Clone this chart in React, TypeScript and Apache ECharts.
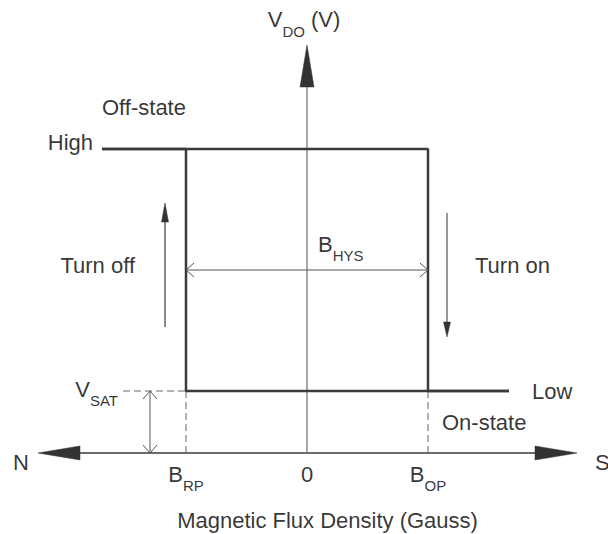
import React, { useEffect, useRef } from "react";
import * as echarts from "echarts";

// ---- Field values (Gauss, relative) ----
const B_RP = -121;
const B_ZERO = 0;
const B_OP = 121;
const B_LEFT_END = -205;
const B_RIGHT_END = 202;

// ---- Output levels (relative units) ----
const V_SAT = 62;
const V_HIGH = 304;

// Axis extents (data units)
const X_AXIS_LEFT = -269;
const X_AXIS_RIGHT = 270;
const Y_AXIS_TOP = 408;

// Tick labels of the field axis
const xTickValues = [B_RP, B_ZERO, B_OP];
const xTickLabels = ["{m|B}{s|RP}", "{m|0}", "{m|B}{s|OP}"];

// Hysteresis branches
const increasingBranch = [
  [B_LEFT_END, V_HIGH],
  [B_OP, V_HIGH],
  [B_OP, V_SAT],
  [B_RIGHT_END, V_SAT],
];
const decreasingBranch = [
  [B_RIGHT_END, V_SAT],
  [B_RP, V_SAT],
  [B_RP, V_HIGH],
  [B_LEFT_END, V_HIGH],
];

// Helper segments [x1, y1, x2, y2]
const segments = [
  [X_AXIS_LEFT + 30, 0, X_AXIS_RIGHT - 30, 0], // x axis
  [0, 0, 0, Y_AXIS_TOP - 30], // y axis
  [-184, V_SAT, B_RP, V_SAT], // V_SAT dashed
  [B_RP, 0, B_RP, V_SAT], // B_RP dashed
  [B_OP, 0, B_OP, V_SAT], // B_OP dashed
  [B_RP, 183, B_OP, 183], // B_HYS dimension
  [-157, 0, -157, V_SAT], // V_SAT dimension
  [-142, 126, -142, 245], // turn off arrow
  [140, 240, 140, 120], // turn on arrow
];
const segmentKinds = ["xaxis", "yaxis", "dash", "dash", "dash", "dim", "dim", "off", "on"];

// Arrow heads [tipX, tipY, dirX, dirY]
const arrowHeads = [
  [X_AXIS_RIGHT, 0, 1, 0],
  [X_AXIS_LEFT, 0, -1, 0],
  [0, Y_AXIS_TOP, 0, 1],
  [B_RP, 183, -1, 0],
  [B_OP, 183, 1, 0],
  [-157, V_SAT, 0, 1],
  [-157, 0, 0, -1],
  [-142, 250, 0, 1],
  [140, 116, 0, -1],
];
const arrowKinds = ["axis", "axis", "axis", "open", "open", "open", "open", "small", "small2"];

// Text annotations
const annoTexts = ["Off-state", "High", "Turn off", "Turn on", "Low", "On-state", "N", "S"];
const annoPos = [
  [-205, 346],
  [-214, 310.5],
  [-172, 188],
  [168, 188],
  [225, 61.5],
  [135, 30.5],
  [-294, -9.5],
  [288, -9.5],
];
const annoAlign = ["left", "right", "right", "left", "left", "left", "left", "left"];

const subTexts = ["{m|V}{s|DO}{m| (V)}", "{m|B}{s|HYS}", "{m|V}{s|SAT}"];
const subPos = [
  [-3, 444.5],
  [11, 220],
  [-189, 75],
];
const subAlign = ["center", "left", "right"];

const TITLE = "Magnetic Flux Density (Gauss)";
const TITLE_POS = [20.5, -67.5];
const TICK_LABEL_Y = -10;

const FONT = "'Liberation Sans', Arial, Helvetica, sans-serif";
const FS = 22;
const TEXT_COLOR = "#000";

const rich = {
  m: { fontSize: FS, lineHeight: 26, verticalAlign: "top", color: TEXT_COLOR, fontFamily: FONT },
  s: { fontSize: 15, lineHeight: 16, padding: [15, 0, 0, 0], verticalAlign: "top", color: TEXT_COLOR, fontFamily: FONT },
};

export default function App() {
  const ref = useRef<HTMLDivElement>(null);

  useEffect(() => {
    document.body.style.margin = "0";
    if (!ref.current) return;
    const chart = echarts.init(ref.current, undefined, { renderer: "svg" });

    const segStyle = (k: string) => {
      switch (k) {
        case "xaxis":
          return { stroke: "#3a3a3a", lineWidth: 1.5 };
        case "yaxis":
          return { stroke: "#8a8a8a", lineWidth: 1.5 };
        case "dash":
          return { stroke: "#666", lineWidth: 1, lineDash: [7, 4] };
        case "dim":
          return { stroke: "#555", lineWidth: 1 };
        case "off":
          return { stroke: "#8a8a8a", lineWidth: 2 };
        default:
          return { stroke: "#555", lineWidth: 1.2 };
      }
    };
    const headSize: Record<string, number[]> = {
      axis: [42, 7],
      open: [8, 7],
      small: [19, 3.5],
      small2: [15, 3.5],
    };

    const plainLabelData = annoTexts.map((t, i) => ({
      value: annoPos[i],
      label: {
        show: true,
        position: [0, 0],
        formatter: t,
        align: annoAlign[i],
        verticalAlign: "middle",
        fontSize: FS,
        fontFamily: FONT,
        color: TEXT_COLOR,
      },
    }));
    const subLabelData = subTexts.map((t, i) => ({
      value: subPos[i],
      label: {
        show: true,
        position: [0, 0],
        formatter: t,
        align: subAlign[i],
        verticalAlign: "top",
        rich,
      },
    }));
    const tickLabelData = xTickValues.map((v, i) => ({
      value: [v, TICK_LABEL_Y],
      label: {
        show: true,
        position: [0, 0],
        formatter: xTickLabels[i],
        align: "center",
        verticalAlign: "top",
        rich,
      },
    }));
    const titleData = [
      {
        value: TITLE_POS,
        label: {
          show: true,
          position: [0, 0],
          formatter: TITLE,
          align: "center",
          verticalAlign: "middle",
          fontSize: FS,
          fontFamily: FONT,
          color: TEXT_COLOR,
        },
      },
    ];

    chart.setOption({
      animation: false,
      backgroundColor: "#fff",
      grid: { left: 0, right: 0, top: 0, bottom: 0 },
      xAxis: { type: "value", min: -307, max: 301, show: false },
      yAxis: { type: "value", min: -81, max: 453, show: false },
      series: [
        {
          type: "custom",
          clip: false,
          silent: true,
          encode: { x: [0, 2], y: [1, 3] },
          data: segments,
          renderItem: (params: any, api: any) => {
            const p1 = api.coord([api.value(0), api.value(1)]);
            const p2 = api.coord([api.value(2), api.value(3)]);
            return {
              type: "line",
              shape: { x1: p1[0], y1: p1[1], x2: p2[0], y2: p2[1] },
              style: segStyle(segmentKinds[params.dataIndex]),
            };
          },
          z: 1,
        },
        {
          type: "line",
          data: increasingBranch,
          symbol: "none",
          silent: true,
          lineStyle: { color: "#3a3a3a", width: 2.5 },
          z: 3,
        },
        {
          type: "line",
          data: decreasingBranch,
          symbol: "none",
          silent: true,
          lineStyle: { color: "#3a3a3a", width: 2.5 },
          z: 3,
        },
        {
          type: "custom",
          clip: false,
          silent: true,
          encode: { x: 0, y: 1 },
          data: arrowHeads,
          renderItem: (params: any, api: any) => {
            const tip = api.coord([api.value(0), api.value(1)]);
            const dx = api.value(2);
            const dy = -api.value(3);
            const kind = arrowKinds[params.dataIndex];
            const [len, hw] = headSize[kind];
            const bx = tip[0] - dx * len;
            const by = tip[1] - dy * len;
            const px = -dy * hw;
            const py = dx * hw;
            const points = [
              [bx + px, by + py],
              [tip[0], tip[1]],
              [bx - px, by - py],
            ];
            if (kind === "open") {
              return {
                type: "polyline",
                shape: { points },
                style: { stroke: "#555", lineWidth: 1, fill: null },
              };
            }
            return {
              type: "polygon",
              shape: { points },
              style: { fill: "#333", stroke: "#333", lineWidth: 0.5 },
            };
          },
          z: 4,
        },
        {
          type: "scatter",
          symbolSize: 0,
          silent: true,
          data: [...plainLabelData, ...subLabelData, ...tickLabelData, ...titleData],
          z: 5,
        },
      ],
    });

    return () => chart.dispose();
  }, []);

  return <div ref={ref} style={{ width: 608, height: 534 }} />;
}
